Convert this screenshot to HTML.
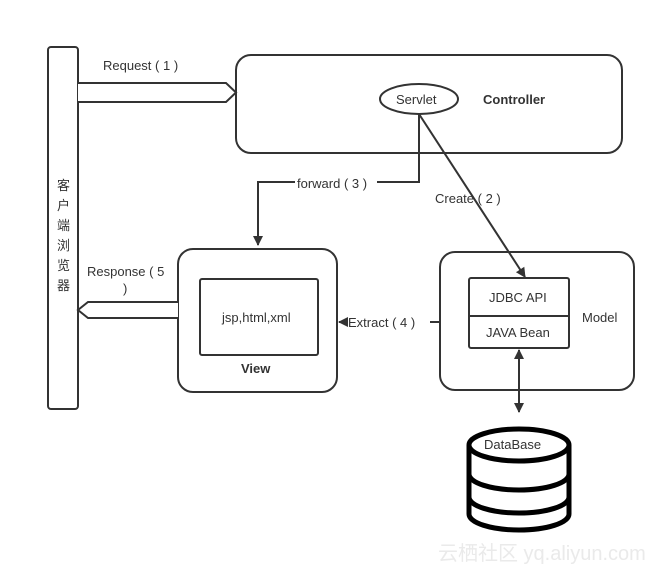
<!DOCTYPE html>
<html><head><meta charset="utf-8"><style>
body{margin:0;background:#fff}
svg{display:block;font-family:"Liberation Sans","Noto Sans CJK SC",sans-serif}
</style></head><body>
<svg width="667" height="574" viewBox="0 0 667 574" xmlns="http://www.w3.org/2000/svg">
<defs>
<marker id="a" markerWidth="10" markerHeight="10" refX="9" refY="5" orient="auto" markerUnits="userSpaceOnUse"><path d="M0,0 L10,5 L0,10 z" fill="#333"/></marker>
<marker id="b" markerWidth="10" markerHeight="10" refX="1" refY="5" orient="auto" markerUnits="userSpaceOnUse"><path d="M10,0 L0,5 L10,10 z" fill="#333"/></marker>
</defs>
<g stroke="#333" stroke-width="2" fill="none">
<rect x="48" y="47" width="30" height="362" rx="3" fill="#fff"/>
<path d="M78,83 L226,83 L236,92.5 L226,102 L78,102" fill="#fff"/>
<rect x="236" y="55" width="386" height="98" rx="15"/>
<ellipse cx="419" cy="99" rx="39" ry="15"/>
<path d="M419,114 L419,182 L258,182 L258,245" marker-end="url(#a)"/>
<path d="M419,114 L525,277" marker-end="url(#a)"/>
<rect x="178" y="249" width="159" height="143" rx="15"/>
<rect x="200" y="279" width="118" height="76" rx="2"/>
<path d="M178,302 L88,302 L78,310 L88,318 L178,318" fill="#fff"/>
<rect x="440" y="252" width="194" height="138" rx="15"/>
<rect x="469" y="278" width="100" height="70" rx="2"/>
<line x1="469" y1="316" x2="569" y2="316"/>
<line x1="440" y1="322" x2="430" y2="322"/>
<line x1="346" y1="322" x2="339" y2="322" marker-end="url(#a)"/>
<line x1="519" y1="350" x2="519" y2="412" marker-start="url(#b)" marker-end="url(#a)"/>
</g>
<rect x="295" y="175" width="82" height="16" fill="#fff"/>
<g stroke="#000" stroke-width="5" fill="#fff">
<path d="M469,445 L469,514 A50,16 0 0 0 569,514 L569,445"/>
<path d="M469,474 A50,16 0 0 0 569,474" fill="none"/>
<path d="M469,497 A50,16 0 0 0 569,497" fill="none"/>
<ellipse cx="519" cy="445" rx="50" ry="16"/>
</g>
<g font-size="13" fill="#333">
<text x="103" y="70">Request ( 1 )</text>
<text x="396" y="104">Servlet</text>
<text x="483" y="104" font-weight="bold">Controller</text>
<text x="297" y="188">forward ( 3 )</text>
<text x="435" y="203">Create ( 2 )</text>
<text x="87" y="276">Response ( 5</text>
<text x="123" y="293">)</text>
<text x="222" y="322">jsp,html,xml</text>
<text x="241" y="373" font-weight="bold">View</text>
<text x="348" y="327">Extract ( 4 )</text>
<text x="489" y="302">JDBC API</text>
<text x="486" y="337">JAVA Bean</text>
<text x="582" y="322">Model</text>
<text x="484" y="449">DataBase</text>
<g font-size="13"><text x="57" y="190">客</text><text x="57" y="210">户</text><text x="57" y="230">端</text><text x="57" y="250">浏</text><text x="57" y="270">览</text><text x="57" y="290">器</text></g>
</g>
<text x="438" y="560" font-size="20" fill="#eaeaea">云栖社区 yq.aliyun.com</text>
</svg>
</body></html>
